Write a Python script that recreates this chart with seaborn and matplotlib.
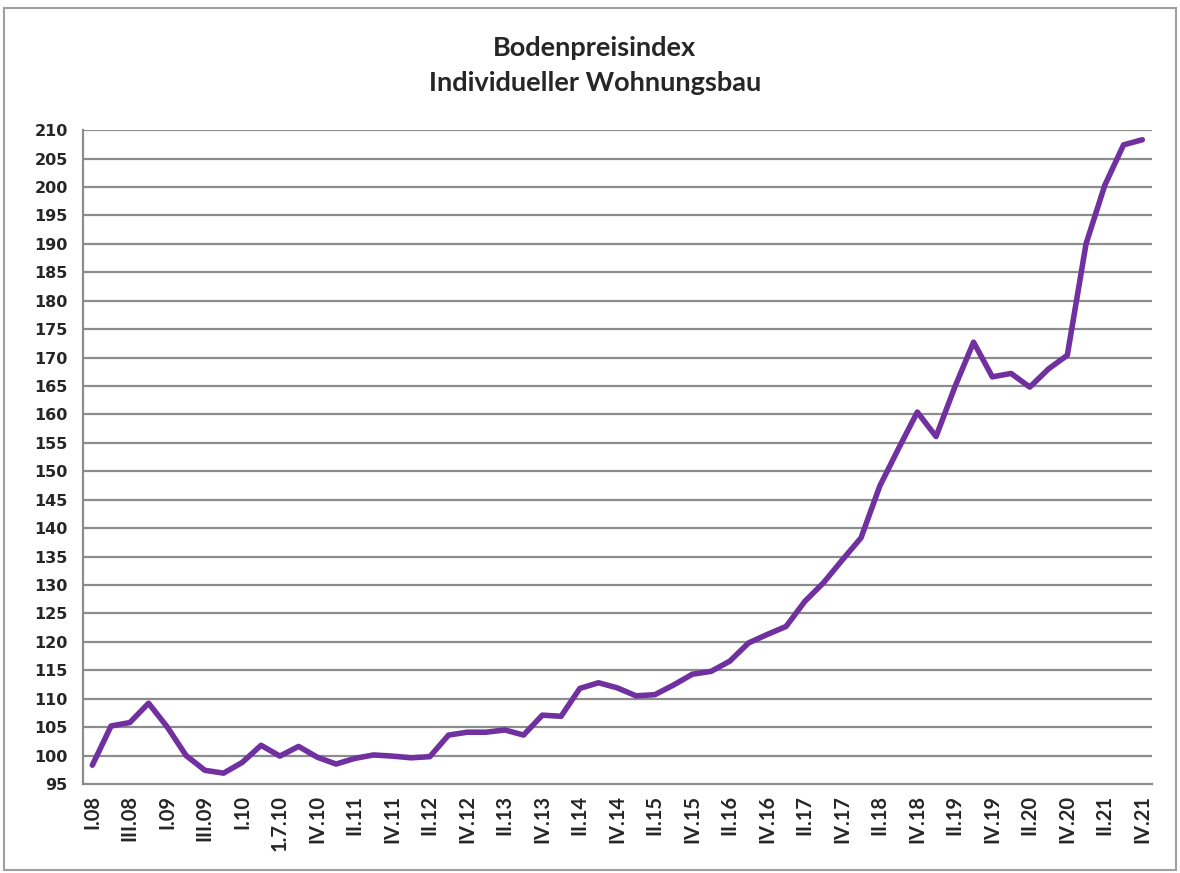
import numpy as np
import pandas as pd
import matplotlib
matplotlib.use("Agg")
import matplotlib.pyplot as plt
import seaborn as sns
from matplotlib.patches import Rectangle

# quarter labels (1.7.10 is an extra reporting date in 2010)
quarters = ["I.08", "II.08", "III.08", "IV.08",
            "I.09", "II.09", "III.09", "IV.09",
            "I.10", "II.10", "1.7.10", "III.10", "IV.10"]
for yr in range(11, 22):
    quarters += ["I.%d" % yr, "II.%d" % yr, "III.%d" % yr, "IV.%d" % yr]

index_values = [98.3, 105.2, 105.8, 109.2, 105.0, 100.0, 97.4, 96.9,
                98.8, 101.8, 99.9, 101.6, 99.7, 98.5, 99.5, 100.1,
                99.9, 99.6, 99.8, 103.6, 104.1, 104.1, 104.5, 103.6,
                107.1, 106.9, 111.8, 112.8, 111.9, 110.5, 110.7, 112.4,
                114.3, 114.8, 116.6, 119.8, 121.3, 122.7, 127.1, 130.4,
                134.4, 138.3, 147.4, 154.0, 160.4, 156.1, 164.8, 172.7,
                166.6, 167.2, 164.8, 168.0, 170.4, 190.0, 200.3, 207.4,
                208.3]

y_ticks = list(range(95, 211, 5))

df = pd.DataFrame({"pos": np.arange(len(quarters)), "quartal": quarters,
                   "index": index_values})

sns.set_style("white")
fig = plt.figure(figsize=(11.8, 8.73), dpi=100)
ax = fig.add_axes([0.0703, 0.102, 0.9057, 0.749])

grid_col = "#8c8c8c"
for v in y_ticks[1:]:
    ax.axhline(v, color=grid_col, lw=1.6, zorder=1)

sns.lineplot(data=df, x="pos", y="index", ax=ax, color="#7030A0", lw=4,
             zorder=3, solid_joinstyle="round", solid_capstyle="round")

ax.set_xlim(-0.5, len(quarters) - 0.5)
ax.set_ylim(95, 210)
ax.set_yticks(y_ticks)
ax.set_yticklabels([str(v) for v in y_ticks], fontfamily="DejaVu Sans",
                   fontweight="bold", fontsize=11.5)

label_pos = list(range(0, len(quarters), 2))
ax.set_xticks(label_pos)
ax.set_xticklabels([quarters[i] for i in label_pos], rotation=90,
                   fontfamily="Lato", fontweight="bold", fontsize=14.5)
ax.set_xticks(np.arange(-0.5, len(quarters), 1), minor=True)
ax.tick_params(axis="x", which="major", length=0, pad=8)
ax.tick_params(axis="x", which="minor", length=7, width=1.5, color=grid_col,
               direction="out")
ax.tick_params(axis="y", length=7, width=1.5, color=grid_col, direction="out",
               pad=4)

for s in ["top", "right"]:
    ax.spines[s].set_visible(False)
for s in ["left", "bottom"]:
    ax.spines[s].set_color(grid_col)
    ax.spines[s].set_linewidth(1.6)

ax.set_xlabel("")
ax.set_ylabel("")

fig.text(0.504, 0.945, "Bodenpreisindex", ha="center", va="center",
         fontfamily="Lato", fontweight="bold", fontsize=19.5)
fig.text(0.504, 0.905, "Individueller Wohnungsbau", ha="center", va="center",
         fontfamily="Lato", fontweight="bold", fontsize=19.5)

fig.patches.append(Rectangle((0.003, 0.003), 0.994, 0.988,
                             transform=fig.transFigure, fill=False,
                             edgecolor="#a0a0a0", lw=1.5))

fig.savefig("out.png", dpi=100)
